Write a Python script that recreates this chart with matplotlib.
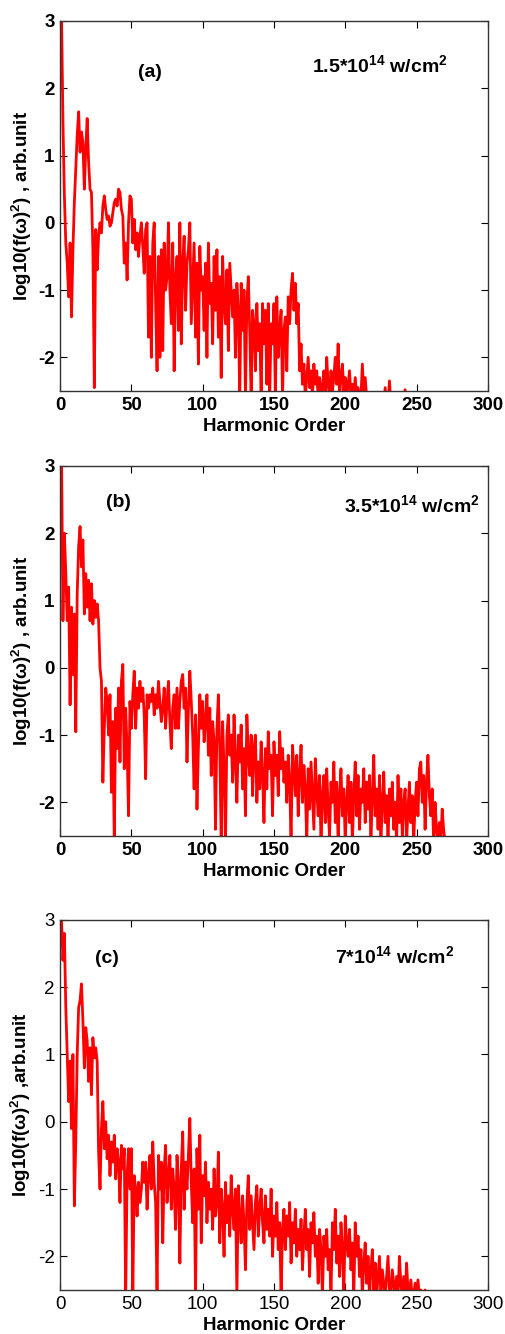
import numpy as np
import matplotlib
matplotlib.use('Agg')
from matplotlib import pyplot as plt

plt.rcParams['font.family'] = ['Liberation Sans', 'DejaVu Sans']
plt.rcParams['mathtext.fontset'] = 'custom'
plt.rcParams['mathtext.rm'] = 'Liberation Sans:bold'
plt.rcParams['mathtext.it'] = 'Liberation Sans:bold'
plt.rcParams['mathtext.bf'] = 'Liberation Sans:bold'
plt.rcParams['axes.unicode_minus'] = False

# spectra, one value per harmonic order
spec_a = [2.4, 3.1, 1.5, 0.4, -0.3, -0.6, -1.1, -0.3, -1.4, -0.4,
          0.3, 0.8, 1.3, 1.65, 1.05, 1.35, 1.2, 0.5, 1.1, 1.55,
          0.9, 0.5, 0.45, -0.4, -2.45, -0.1, -0.7, -0.2, 0.0, -0.15,
          0.25, 0.4, 0.2, 0.05, 0.1, -0.05, 0.0, 0.15, 0.3, 0.35,
          0.25, 0.5, 0.45, 0.2, 0.1, -0.6, -0.3, -0.85, 0.0, 0.4,
          0.35, -0.3, 0.05, -0.4, -0.15, -0.5, -0.2, 0.0, -0.35, -0.75,
          -0.1, 0.0, -1.7, -0.5, -2.0, -0.3, 0.0, -1.2, -2.2, -0.5,
          -2.0, -0.4, -1.9, -0.3, -1.0, -0.8, 0.0, -1.0, -1.5, -0.3,
          -2.2, -0.8, -0.5, -1.6, 0.0, -1.8, -0.6, -0.2, -1.3, -0.6,
          -0.4, 0.0, -1.5, -0.9, -0.3, -1.7, -0.6, -2.1, -0.35, -1.0,
          -0.8, -1.6, -0.6, -2.0, -0.3, -1.2, -0.9, -1.8, -0.5, -1.3,
          -0.4, -1.7, -0.8, -2.3, -0.5, -1.2, -1.5, -0.7, -1.9, -0.6,
          -1.0, -1.4, -1.0, -2.0, -0.9, -1.3, -2.6, -0.9, -1.6, -1.0,
          -2.6, -1.2, -0.8, -1.6, -2.6, -1.3, -1.5, -2.2, -1.2, -1.9,
          -1.5, -2.6, -1.2, -1.8, -1.3, -2.4, -1.2, -2.6, -1.5, -1.8,
          -1.2, -2.6, -1.1, -2.0, -1.6, -1.3, -2.6, -1.6, -1.4, -2.2,
          -1.1, -1.5, -1.0, -0.75, -1.3, -0.9, -1.5, -1.2, -2.2, -1.8,
          -2.4, -2.1, -2.6, -2.3, -2.0, -2.45, -2.2, -2.6, -2.1, -2.4,
          -2.2, -2.6, -2.3, -2.6, -2.45, -2.2, -2.6, -2.0, -2.4, -2.6,
          -2.2, -2.5, -2.3, -2.0, -2.4, -1.8, -2.6, -2.3, -2.1, -2.5,
          -2.3, -2.6, -2.4, -2.2, -2.6, -2.4, -2.6, -2.3, -2.6, -2.45,
          -2.6, -2.6, -2.1, -2.6, -2.3, -2.6, -2.6, -2.7, -2.7, -2.7,
          -2.7, -2.7, -2.7, -2.7, -2.7, -2.6, -2.7, -2.7, -2.45, -2.7,
          -2.7, -2.35, -2.7, -2.7, -2.7, -2.7, -2.7, -2.7, -2.7, -2.7,
          -2.7, -2.7, -2.48, -2.7]

spec_b = [2.6, 3.2, 0.7, 2.0, 1.4, 0.7, 1.2, -0.55, 0.9, -0.1,
          0.8, -0.95, 1.1, 1.8, 2.1, 1.5, 1.9, 0.8, 1.4, 0.9,
          1.3, 0.7, 1.25, 0.65, 1.0, 0.75, 0.95, 0.7, 0.0, -0.2,
          -1.7, -0.9, -0.3, -0.5, -1.0, -0.4, -1.85, -0.8, -2.6, -0.6,
          -1.2, -0.3, -1.4, -0.2, 0.05, -1.5, -0.6, -1.2, -2.2, -0.5,
          -0.9, -0.4, -0.05, -0.9, -0.3, -0.6, -0.2, -0.5, -0.3, -0.7,
          -1.65, -0.4, -0.6, -0.4, -0.5, -0.3, -0.7, -0.4, -0.6, -0.2,
          -0.5, -0.8, -0.6, -0.3, -0.9, -0.5, -0.2, -0.8, -1.2, -0.6,
          -0.4, -0.9, -0.3, -0.9, -0.5, -0.2, -0.1, -0.6, -0.3, -1.4,
          -0.6, -0.05, -0.5, -1.0, -1.8, -0.7, -2.1, -1.2, -0.4, -0.9,
          -0.5, -1.1, -0.8, -0.4, -1.3, -0.6, -1.6, -0.8, -1.1, -2.4,
          -0.9, -0.4, -1.2, -2.6, -0.8, -1.5, -2.6, -1.0, -0.7, -1.3,
          -1.0, -1.7, -0.7, -1.4, -2.0, -1.0, -1.4, -0.85, -1.8, -1.2,
          -2.2, -0.7, -1.3, -1.6, -1.0, -1.9, -1.2, -1.0, -2.0, -1.4,
          -1.8, -1.1, -1.6, -2.3, -1.2, -1.8, -0.95, -1.5, -1.3, -2.2,
          -1.1, -1.6, -1.3, -1.9, -0.95, -1.5, -1.2, -1.7, -1.4, -2.0,
          -1.3, -1.7, -2.6, -1.15, -1.5, -1.9, -1.3, -2.2, -1.6, -1.15,
          -2.0, -1.45, -1.8, -2.6, -1.5, -2.1, -1.4, -1.9, -2.4, -1.35,
          -1.8, -2.2, -1.6, -2.6, -1.9, -1.6, -2.3, -1.5, -2.1, -2.5,
          -1.7, -2.0, -1.4, -2.3, -1.7, -2.6, -1.9, -1.5, -2.2, -1.8,
          -2.6, -2.0, -1.6, -2.3, -1.7, -2.6, -1.9, -1.4, -2.2, -1.6,
          -2.4, -1.8, -2.0, -1.5, -2.3, -1.7, -2.1, -1.6, -2.6, -1.9,
          -1.3, -2.2, -1.8, -2.4, -1.6, -2.6, -2.0, -1.55, -2.3, -1.9,
          -2.6, -1.8, -2.2, -1.7, -2.4, -2.0, -2.6, -1.6, -2.3, -1.8,
          -2.5, -2.0, -1.8, -2.6, -2.1, -1.7, -2.3, -1.9, -2.6, -2.0,
          -1.7, -2.2, -1.5, -1.4, -2.0, -1.6, -2.4, -1.7, -1.3, -1.9,
          -2.2, -1.8, -2.6, -2.0, -2.4, -2.6, -2.3, -2.6, -2.1, -2.4,
          -2.6]

spec_c = [3.1, 3.0, 2.4, 2.8, 1.7, 1.0, 0.3, 0.9, -0.1, 1.0,
          -1.25, -0.3, 1.0, 1.7, 1.8, 2.05, 1.5, 0.8, 1.4, 1.2,
          0.6, 1.1, 0.4, 1.25, 0.95, 1.1, 0.9, -0.45, -1.0, -0.1,
          0.3, -0.4, 0.0, -0.55, -0.2, -0.8, -0.3, -0.6, -0.2, -0.85,
          -0.4, -0.6, -1.2, -0.35, -0.7, -0.4, -2.6, -0.8, -0.4, -1.0,
          -0.4, -2.6, -0.8, -1.0, -1.4, -0.9, -1.2, -1.0, -0.6, -0.9,
          -0.6, -1.3, -0.8, -0.5, -1.0, -0.3, -0.9, -1.2, -2.6, -0.5,
          -1.0, -0.6, -1.8, -0.7, -0.35, -1.2, -0.8, -0.5, -1.3, -0.7,
          -1.0, -1.6, -0.5, -0.9, -2.1, -0.7, -0.15, -1.3, -0.6, -1.0,
          -0.5, 0.05, -0.9, -1.5, -0.7, -2.6, -0.4, -1.3, -0.2, -1.8,
          -0.8, -1.1, -0.6, -1.5, -0.9, -1.3, -1.0, -1.6, -0.7, -1.4,
          -1.2, -0.45, -1.8, -1.0, -1.3, -2.0, -0.9, -1.5, -1.1, -1.7,
          -0.8, -1.3, -1.6, -1.0, -2.6, -0.95, -1.4, -1.8, -1.1, -1.5,
          -2.2, -1.2, -0.8, -1.6, -1.1, -1.5, -1.9, -1.2, -0.95, -1.7,
          -1.3, -1.0, -1.5, -1.8, -1.1, -1.6, -1.3, -1.7, -1.0, -2.0,
          -1.4, -1.7, -1.2, -1.9, -1.5, -2.6, -1.6, -1.3, -1.9, -1.4,
          -1.7, -1.2, -2.1, -1.5, -1.8, -1.3, -2.0, -1.6, -1.9, -1.45,
          -2.2, -1.7, -1.3, -1.9, -1.6, -2.3, -1.5, -1.8, -1.35, -2.0,
          -1.7, -2.4, -1.6, -1.9, -2.6, -1.7, -2.0, -1.6, -2.2, -1.9,
          -2.6, -1.5, -1.9, -1.3, -2.1, -1.7, -2.3, -1.5, -1.9, -2.6,
          -1.4, -1.8, -2.0, -1.6, -2.2, -1.8, -2.6, -1.5, -2.0, -1.7,
          -2.3, -1.9, -2.6, -2.1, -1.8, -2.4, -2.0, -2.6, -2.2, -1.9,
          -2.5, -2.1, -2.6, -2.3, -2.0, -2.6, -2.2, -2.4, -2.6, -2.3,
          -2.0, -2.5, -2.6, -2.2, -2.4, -2.6, -2.3, -2.6, -2.0, -2.4,
          -2.6, -2.3, -2.6, -2.1, -2.5, -2.6, -2.35, -2.6, -2.6, -2.4,
          -2.6, -2.35, -2.6, -2.5, -2.6, -2.6, -2.5, -2.6]

panel_tags = ['(a)', '(b)', '(c)']
intensities = [r'1.5*10$^{14}$ w/cm$^{2}$', r'3.5*10$^{14}$ w/cm$^{2}$', r'7*10$^{14}$ w/cm$^{2}$']
ylabels = [r'log10(f(ω)$^{2}$) , arb.unit', r'log10(f(ω)$^{2}$) , arb.unit', r'log10(f(ω)$^{2}$) ,arb.unit']
tag_pos = [(63, 2.23), (41, 2.46), (33, 2.42)]
int_pos = [(224, 2.35), (247, 2.42), (235, 2.46)]

fig = plt.figure(figsize=(5.05, 13.34), dpi=100)
bottoms = [0.7069, 0.3733, 0.0330]
axes = [fig.add_axes([0.119, b, 0.847, 0.2774]) for b in bottoms]

for i, (ax, spec) in enumerate(zip(axes, [spec_a, spec_b, spec_c])):
    ax.plot(np.arange(len(spec)), spec, color='red', lw=2.0)
    ax.set_xlim(0, 300)
    ax.set_ylim(-2.5, 3)
    ax.set_xticks([0, 50, 100, 150, 200, 250, 300])
    ax.set_yticks([-2, -1, 0, 1, 2, 3])
    ax.tick_params(direction='in', top=True, right=True, length=5, width=0.8,
                   labelsize=13.5, pad=4)
    for s in ax.spines.values():
        s.set_color('#333333')
        s.set_linewidth(1.0)
    w = 'normal' if i == 2 else 'bold'
    for lab in ax.get_xticklabels() + ax.get_yticklabels():
        lab.set_fontweight(w)
    ax.set_xlabel('Harmonic Order', fontsize=13.5, fontweight='bold', labelpad=3)
    ax.set_ylabel(ylabels[i], fontsize=13.5, fontweight='bold', labelpad=3)
    ax.text(tag_pos[i][0], tag_pos[i][1], panel_tags[i], fontsize=14,
            fontweight='bold', ha='center', va='center')
    ax.text(int_pos[i][0], int_pos[i][1], intensities[i], fontsize=14,
            fontweight='bold', ha='center', va='center')

plt.savefig('out.png', dpi=100)
